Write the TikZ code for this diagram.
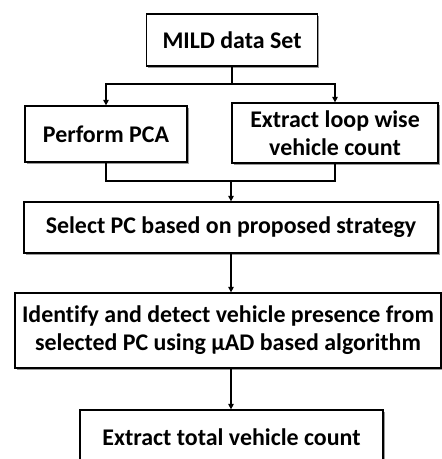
\documentclass[tikz,border=0pt]{standalone}
\usepackage{fontspec}
\setmainfont[Ligatures=NoCommon]{Carlito}
\usetikzlibrary{arrows.meta,shadows}
\begin{document}
\begin{tikzpicture}[x=1bp,y=-1bp,
  box/.style={draw=black,line width=1.3bp,fill=white,align=center,inner sep=0pt,
    font=\fontsize{24}{28}\selectfont\bfseries,
    drop shadow={shadow xshift=1.6bp,shadow yshift=-1.6bp,fill=black,opacity=0.4}},
  conn/.style={line width=1.3bp,draw=black},
  arr/.style={conn,-{Triangle[length=5.5bp,width=5.5bp]}}]
\useasboundingbox[fill=white] (0,0) rectangle (442,459);
\node[box,minimum width=171bp,minimum height=52bp] (mild) at (232,40) {MILD data Set};
\node[box,minimum width=162bp,minimum height=56bp] (pca) at (106,134) {Perform PCA};
\node[box,minimum width=206bp,minimum height=60bp] (loop) at (335,133) {Extract loop wise\\vehicle count};
\node[box,minimum width=414bp,minimum height=51bp] (sel) at (231,227.5) {Select PC based on proposed strategy};
\node[box,minimum width=426bp,minimum height=75bp] (ident) at (228,330.5) {Identify and detect vehicle presence from\\selected PC using µAD based algorithm};
\node[box,minimum width=303bp,minimum height=55bp] (total) at (231.5,437.5) {Extract total vehicle count};
\coordinate (j1) at (232,84);
\coordinate (j2) at (231,181);
\draw[conn] (mild.south) -- (j1);
\draw[arr] (j1) -| (pca.north);
\draw[arr] (j1) -| (loop.north);
\draw[conn] (pca.south) |- (j2);
\draw[conn] (loop.south) |- (j2);
\draw[arr] (j2) -- (j2 |- sel.north);
\draw[arr] (j2 |- sel.south) -- (j2 |- ident.north);
\draw[arr] (j2 |- ident.south) -- (j2 |- total.north);
\end{tikzpicture}
\end{document}
